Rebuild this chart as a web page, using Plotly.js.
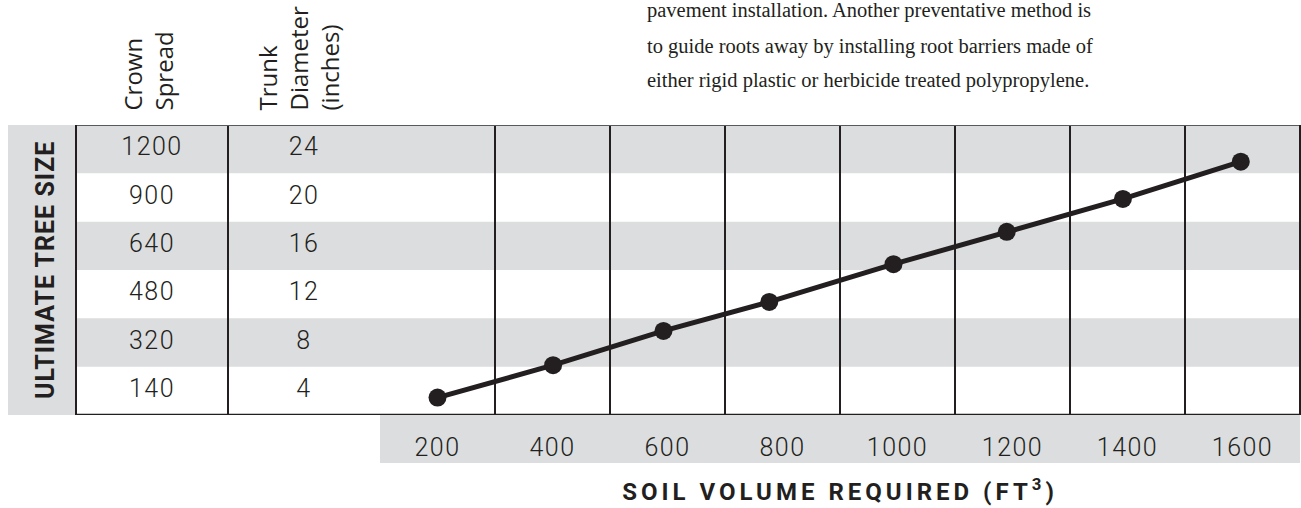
<!DOCTYPE html>
<html><head><meta charset="utf-8">
<script src="https://cdn.plot.ly/plotly-3.0.1.min.js"></script>
<style>
html,body{margin:0;padding:0;background:#fff;}
#chart{width:1301px;height:508px;}
.xtick text{letter-spacing:1.5px;}
.textpoint text{letter-spacing:1.5px;}
.xtitle{letter-spacing:4px;}
.annotation[data-index="0"] text{letter-spacing:1px;}
</style></head><body><div id="chart"></div>
<script>
// ---- data ----
const crownSpread = [140, 320, 480, 640, 900, 1200];
const trunkDiameter = [4, 8, 12, 16, 20, 24];
const soilTicks = [200, 400, 600, 800, 1000, 1200, 1400, 1600];
const soilVolume = [200, 401, 593, 777, 993, 1190, 1392, 1597];
const treeSizeRow = [0.36, 1.03, 1.74, 2.34, 3.12, 3.79, 4.47, 5.24];
const tableHeaders = ['Crown<br>Spread', 'Trunk<br>Diameter<br>(inches)'];
const sideLabel = 'ULTIMATE TREE SIZE';
const xTitle = 'SOIL VOLUME REQUIRED (FT<sup>3</sup>)';
const paragraph = [
  'pavement installation. Another preventative method is',
  'to guide roots away by installing root barriers made of',
  'either rigid plastic or herbicide treated polypropylene.'
];

// ---- layout helpers ----
const W = 1301, H = 508;
const px = x => x / W;
const py = y => 1 - y / H;
const INK = '#231f20';
const GRAY = '#dcddde';
const nRows = crownSpread.length;

const tableX = [], tableY = [], tableText = [];
crownSpread.forEach((v, i) => { tableX.push(0.5); tableY.push(i + 0.5); tableText.push(String(v)); });
trunkDiameter.forEach((v, i) => { tableX.push(1.5); tableY.push(i + 0.5); tableText.push(String(v)); });

const traces = [
  {
    type: 'scatter', mode: 'text', xaxis: 'x2', yaxis: 'y',
    x: tableX, y: tableY, text: tableText, textposition: 'middle center',
    textfont: {family: 'Roboto', size: 25, weight: 300, color: INK},
    hoverinfo: 'skip', showlegend: false, cliponaxis: false
  },
  {
    type: 'scatter', mode: 'lines+markers', xaxis: 'x', yaxis: 'y',
    x: soilVolume, y: treeSizeRow,
    line: {color: INK, width: 5},
    marker: {color: INK, size: 18},
    hoverinfo: 'x+y', showlegend: false, cliponaxis: false
  }
];

const shapes = [];
// side label column
shapes.push({type: 'rect', layer: 'below', xref: 'paper', yref: 'y', x0: px(8), x1: px(76), y0: 0, y1: nRows, fillcolor: GRAY, line: {width: 0}});
// striped rows (top row gray, alternating)
for (let i = 0; i < nRows; i++) {
  if ((nRows - 1 - i) % 2 === 0) {
    shapes.push({type: 'rect', layer: 'below', xref: 'paper', yref: 'y', x0: px(76), x1: px(1300), y0: i, y1: i + 1, fillcolor: GRAY, line: {width: 0}});
  }
}
// x tick band
shapes.push({type: 'rect', layer: 'below', xref: 'x domain', yref: 'paper', x0: 0, x1: 1, y0: py(463), y1: py(415), fillcolor: GRAY, line: {width: 0}});
// borders
shapes.push({type: 'line', layer: 'above', xref: 'paper', yref: 'y', x0: px(76), x1: px(1300), y0: nRows, y1: nRows, line: {color: '#58595b', width: 2}});
shapes.push({type: 'line', layer: 'above', xref: 'paper', yref: 'y', x0: px(76), x1: px(1300), y0: 0, y1: 0, line: {color: INK, width: 2.5}});
shapes.push({type: 'line', layer: 'above', xref: 'paper', yref: 'y', x0: px(76), x1: px(76), y0: 0, y1: nRows, line: {color: INK, width: 2}});
shapes.push({type: 'line', layer: 'above', xref: 'paper', yref: 'y', x0: px(1300), x1: px(1300), y0: 0, y1: nRows, line: {color: INK, width: 2}});

const annotations = [
  {text: sideLabel, xref: 'paper', yref: 'y', x: px(45), y: nRows / 2, xanchor: 'center', yanchor: 'middle',
   textangle: -90, showarrow: false, font: {family: 'Roboto', size: 25, weight: 700, color: INK}},
  {text: tableHeaders[0], xref: 'paper', yref: 'paper', x: px(147), y: py(113), xanchor: 'center', yanchor: 'bottom',
   textangle: -90, align: 'left', showarrow: false, font: {family: 'Open Sans', size: 24, weight: 400, color: INK}},
  {text: tableHeaders[1], xref: 'paper', yref: 'paper', x: px(298), y: py(113), xanchor: 'center', yanchor: 'bottom',
   textangle: -90, align: 'left', showarrow: false, font: {family: 'Open Sans', size: 24, weight: 400, color: INK}}
];
const paraCenters = [11, 46, 81];
paragraph.forEach((t, i) => annotations.push({
  text: t, xref: 'paper', yref: 'paper', x: px(645), y: py(paraCenters[i]), xanchor: 'left', yanchor: 'middle',
  showarrow: false, font: {family: 'Liberation Serif', size: 20.5, color: INK}
}));

const minorVals = soilTicks.map(v => v - 100).concat([soilTicks[soilTicks.length - 1] + 100]);

const layout = {
  width: W, height: H,
  margin: {l: 0, r: 0, t: 0, b: 0},
  paper_bgcolor: '#ffffff', plot_bgcolor: 'rgba(0,0,0,0)',
  showlegend: false,
  xaxis: {
    domain: [px(380), px(1300)], range: [100, 1700], anchor: 'y',
    tickmode: 'array', tickvals: soilTicks, ticktext: soilTicks.map(String),
    showgrid: false, zeroline: false, showline: false, ticks: '',
    tickfont: {family: 'Roboto', size: 25, weight: 300, color: INK},
    ticklabelstandoff: 15,
    minor: {tickmode: 'array', tickvals: minorVals, showgrid: true, gridcolor: INK, gridwidth: 2, ticks: ''},
    title: {text: xTitle, font: {family: 'Roboto', size: 24, weight: 700, color: INK}, standoff: 22},
    fixedrange: true
  },
  xaxis2: {
    domain: [px(76), px(380)], range: [0, 2], anchor: 'y',
    tickmode: 'linear', tick0: 0, dtick: 1, showticklabels: false, ticks: '',
    showgrid: true, gridcolor: INK, gridwidth: 2, zeroline: false, showline: false, fixedrange: true
  },
  yaxis: {
    domain: [py(415), py(125)], range: [0, nRows],
    showgrid: false, zeroline: false, showline: false, showticklabels: false, ticks: '', fixedrange: true
  },
  shapes: shapes,
  annotations: annotations
};

Plotly.newPlot('chart', traces, layout, {displayModeBar: false, staticPlot: true});
</script></body></html>
